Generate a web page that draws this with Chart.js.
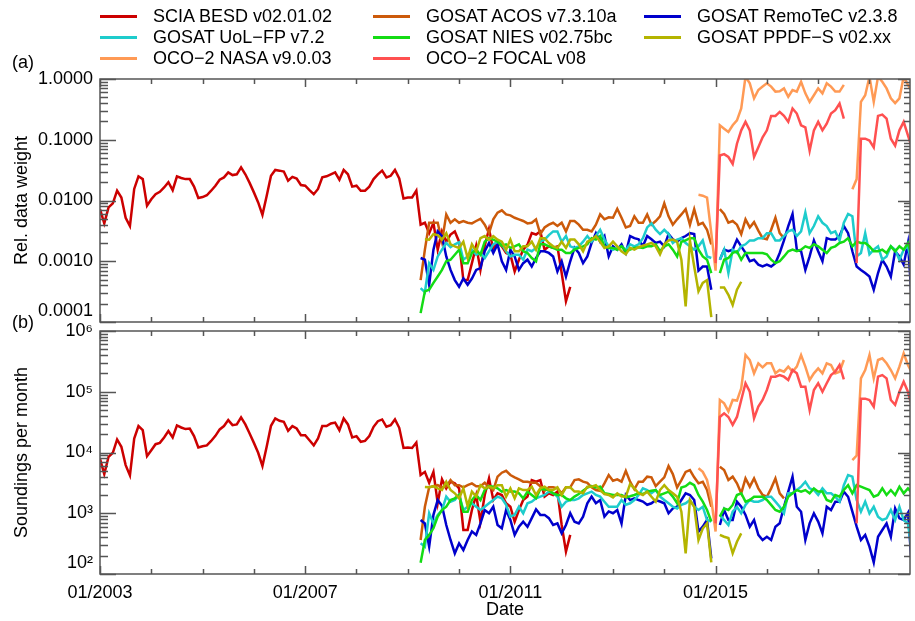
<!DOCTYPE html>
<html>
<head>
<meta charset="utf-8">
<script src="https://cdn.jsdelivr.net/npm/chart.js@4.4.1/dist/chart.umd.min.js"></script>
<style>
  html, body { margin: 0; padding: 0; background: #fff; }
  #wrap { position: relative; width: 915px; height: 621px; overflow: hidden;
          font-family: 'Liberation Sans', Arial, sans-serif; color: #000; }
  canvas { position: absolute; left: 0; top: 0; }
  .leg { position: absolute; font-size: 18px; line-height: 20px; white-space: nowrap; }
  .leg i { position: absolute; left: -53px; top: 9px; width: 37px; height: 0; border-top: 3px solid; }
  .panel { position: absolute; font-size: 18px; line-height: 20px; }
</style>
</head>
<body>
<div id="wrap">
  <canvas id="weightChart" width="915" height="621"></canvas>
  <canvas id="soundChart" width="915" height="621"></canvas>
  <div id="legend"></div>
  <div class="panel" style="left:12px;top:52px">(a)</div>
  <div class="panel" style="left:12px;top:312px">(b)</div>
</div>
<script>
// series, in drawing order; months are counted from 01/2003
const seriesNames = ['SCIA BESD v02.01.02', 'GOSAT ACOS v7.3.10a', 'GOSAT RemoTeC v2.3.8',
  'GOSAT UoL\u2212FP v7.2', 'GOSAT NIES v02.75bc', 'GOSAT PPDF\u2212S v02.xx',
  'OCO\u22122 NASA v9.0.03', 'OCO\u22122 FOCAL v08'];
const seriesColors = ['#cc0000', '#cc5a0a', '#0000cc', '#1ecccc', '#14dc14', '#b4b400', '#ff9a55', '#ff5050'];
const seriesStart = [0, 75, 75, 75, 75, 76, 140, 144];
const firstYear = 2003;
const lastYear = 2018.79;
const dateTicks = [2003, 2007, 2011, 2015];
const weightTicks = [0.0001, 0.001, 0.01, 0.1, 1];
const weightTickLabels = ['0.0001', '0.0010', '0.0100', '0.1000', '1.0000'];
const soundTicks = [1e2, 1e3, 1e4, 1e5, 1e6];
const soundTickLabels = ['10\u00b2', '10\u00b3', '10\u2074', '10\u2075', '10\u2076'];

// (a) relative data weight
const weightScia = [0.0072,0.0042,0.0077,0.0090,0.0145,0.0112,0.0052,0.0038,0.0155,0.025,
  0.0225,0.0082,0.0105,0.0127,0.0139,0.0164,0.0200,0.0148,0.025,0.0235,
  0.0225,0.0225,0.0169,0.011,0.0114,0.0122,0.0145,0.0175,0.022,0.024,
  0.029,0.0262,0.027,0.0352,0.027,0.0195,0.0136,0.0093,0.0058,0.012,
  0.0255,0.0318,0.031,0.030,0.0212,0.0245,0.023,0.018,0.0175,0.0148,
  0.0127,0.0155,0.024,0.025,0.027,0.029,0.022,0.0318,0.027,0.0169,
  0.0175,0.0145,0.0145,0.0169,0.0225,0.027,0.031,0.024,0.0255,0.0318,
  0.023,0.0108,0.0112,0.0112,0.0145,
  0.0040,0.0043,0.0029,0.0043,0.00155,0.0031,0.0021,0.00275,0.0031,0.0021,
  0.00049,0.00049,0.00093,0.0018,0.00072,0.0018,0.0034,0.00155,0.0021,0.00176,
  0.00137,0.00128,0.00068,0.00106,0.00155,0.00188,0.0029,0.00275,0.0031,0.00155,
  0.00176,0.00166,0.00176,0.00064,0.00022,0.00038];
const weightAcos = [0.00049,0.00155,0.0043,0.0043,0.0043,0.0021,0.0059,0.0043,0.0049,0.0043,
  0.0046,0.0043,0.0042,0.0046,0.005,0.0040,0.0029,0.0049,0.0063,0.0069,
  0.0059,0.0057,0.0052,0.0049,0.0046,0.0042,0.0043,0.0049,0.0028,0.0036,
  0.0040,0.0043,0.0038,0.0043,0.0031,0.0046,0.0046,0.0040,0.0033,0.0033,
  0.0031,0.0040,0.0059,0.0049,0.0053,0.0052,0.0073,0.0052,0.0036,0.0038,
  0.0055,0.0043,0.0043,0.0059,0.0040,0.0046,0.0055,0.009,0.0055,0.0040,
  0.0049,0.0059,0.0072,0.0040,0.0072,0.0040,0.0043,0.0033,0.0019,null,
  0.0072,0.006,0.0043,0.0046,0.004,0.0028,0.0049,0.0036,0.0044,0.0032,
  0.0024,0.0023,0.0033,0.0052,0.0029,0.0024];
const weightRemotec = [0.00113,0.00106,0.00041,0.00155,0.0031,0.0026,0.0012,0.00072,0.00049,0.00038,
  0.00052,0.00041,0.00052,0.00072,0.00077,0.00146,0.002,0.00137,0.0019,0.001,
  0.00072,0.00155,0.0012,0.00072,0.00093,0.00106,0.00082,0.00113,0.00146,0.00146,
  0.00137,0.0012,0.00068,0.001,0.00056,0.001,0.00166,0.00137,0.00093,0.0012,
  0.002,0.0029,0.0021,0.0026,0.0012,0.00176,0.00155,0.0019,0.00137,0.0026,
  0.0024,0.0023,0.00176,0.0026,0.0023,0.002,0.0021,0.00176,0.0028,0.0023,
  0.0021,0.0024,0.0026,0.0029,0.0028,0.0007,0.00082,0.00082,0.00034,null,
  0.00106,0.00155,0.00146,0.00155,0.00227,0.00176,0.00137,0.001,0.00106,0.00088,
  0.00082,0.00088,0.00082,0.00093,0.00137,0.0022,0.0038,0.006,0.00155,0.00146,
  0.00072,0.0012,0.0022,0.00146,0.001,0.0024,0.00227,0.00227,0.0026,0.0038,
  0.0029,0.00146,0.00082,0.00072,0.00064,0.00056,0.00034,0.00064,0.00106,0.00082,
  0.00056,0.00146,0.0012,0.00088,0.002,0.00018];
const weightUol = [0.00036,0.00031,0.00093,0.00072,0.0012,0.00155,0.002,0.0017,0.0019,0.00205,
  0.00106,0.0012,0.00155,0.00128,0.00137,0.00113,0.00146,0.0019,0.0021,0.0019,
  0.00146,0.0012,0.00128,0.00128,0.00106,0.00155,0.00146,0.00166,0.0021,0.00227,
  0.0027,0.0031,0.0031,0.0021,0.0026,0.00176,0.00166,0.00176,0.0021,0.0026,
  0.0021,0.0026,0.0033,0.00227,0.00176,0.00155,0.00166,0.00176,0.00155,0.0019,
  0.00176,0.0019,0.0024,0.0036,0.0042,0.0033,0.0028,0.0033,0.0028,0.002,
  0.00227,0.0024,0.002,0.00176,0.00155,0.00176,0.0022,0.0012,0.00113,null,
  0.00106,0.00155,0.00064,0.00155,0.00137,0.00176,0.0019,0.0022,0.0022,0.0024,
  0.0024,0.0029,0.0029,0.0022,0.0022,0.0026,0.0031,0.0033,0.0026,0.0031,
  0.0063,0.0029,0.0038,0.0055,0.0043,0.0038,0.0029,0.0031,0.0022,0.0043,
  0.006,0.0055,0.0012,0.00137,0.0029,0.0013,0.00155,0.00176,0.00106,0.0012,
  0.00176,0.00155,0.00106,0.00155,0.00176,0.00082];
const weightNies = [0.00014,0.00032,0.00034,0.00044,0.00056,0.00072,0.001,0.00106,0.00128,0.00155,
  0.00093,0.00093,0.00137,0.00155,0.00128,0.0021,0.0024,0.00227,0.0021,0.0018,
  0.0019,0.00166,0.00176,0.0019,0.00146,0.00137,0.00113,0.001,0.0019,0.0019,
  0.00176,0.00166,0.00155,0.00155,0.00137,0.00137,0.00155,0.00166,0.00176,0.0019,
  0.0024,0.00227,0.0026,0.00176,0.00166,0.00166,0.00155,0.00176,0.00146,0.00155,
  0.00166,0.0017,0.00166,0.00176,0.00176,0.0019,0.00146,0.00176,0.0019,0.00155,
  0.0012,0.0021,0.0022,0.0024,0.0024,0.00155,0.0012,0.00106,0.00064,null,
  0.00064,0.00106,0.00113,0.00137,0.00146,0.00106,0.00137,0.00137,0.00137,0.00137,
  0.00137,0.0013,0.00106,0.00093,0.001,0.0012,0.00146,0.00155,0.00146,0.00155,
  0.00176,0.00166,0.0019,0.00176,0.00155,0.00137,0.00166,0.00176,0.002,0.0021,
  0.0024,0.00176,0.0021,0.002,0.002,0.00176,0.00146,0.00146,0.00155,0.00137,
  0.00176,0.00146,0.00176,0.00155,0.002,0.00113];
const weightPpdf = [0.0023,0.00227,0.0028,0.0027,0.00227,0.0029,0.0019,0.00176,0.00166,0.0021,
  0.00113,0.0019,0.00146,0.0024,0.0026,0.00227,0.0026,0.00227,0.0021,0.00155,
  0.00227,0.00146,0.00146,0.00176,0.00176,0.0021,0.00155,0.0024,0.0024,0.002,
  0.00176,0.00166,0.0021,0.00166,0.00227,0.00227,0.0019,0.00146,0.0021,0.00227,
  0.0026,0.0021,0.00166,0.00176,0.0021,0.00176,0.00146,0.0013,0.00166,0.00155,
  0.0017,0.0018,0.0019,0.002,0.00176,0.0013,0.0019,0.0022,0.00227,0.0021,
  0.00106,0.00018,0.0022,0.00082,0.00032,0.00044,0.00049,0.00012,null,0.00037,
  0.00037,0.00028,0.00019,0.00034,0.00046];
const weightNasa = [0.0124,0.012,0.0112,0.0029,0.0007,
  0.173,0.152,0.134,0.173,0.209,0.327,1.09,0.85,0.48,0.66,
  0.75,0.85,0.75,0.62,0.63,0.70,0.51,0.66,0.62,0.90,
  0.58,0.42,0.54,0.70,0.58,0.85,0.75,0.62,0.62,0.80,
  null,0.0153,0.0225,0.42,0.54,1.09,0.42,1.09,0.90,0.70,
  0.48,0.40,0.48,1.09,0.80,0.62];
const weightFocal = [0.00093,
  0.055,0.058,0.052,0.040,0.086,0.143,0.197,0.143,0.052,0.075,
  0.11,0.143,0.247,0.247,0.287,0.247,0.197,0.327,0.27,0.173,
  0.16,0.066,0.143,0.197,0.143,0.184,0.27,0.306,0.395,0.223,
  null,null,0.00093,0.104,0.104,0.097,0.075,0.247,0.26,0.223,
  0.104,0.08,0.143,0.197,0.118,0.071];

// (b) soundings per month
const soundScia = [7900,4400,8500,9900,16400,12400,6200,4200,17000,27200,
  23300,8700,10900,13700,14400,17700,22500,17700,27900,25800,
  24300,24800,18600,12100,12700,13100,15500,18800,24000,27200,
  34100,28200,29000,37800,29000,20600,14400,9900,6000,12600,
  27500,36300,33200,32000,22700,27200,24800,19300,19300,15900,
  13100,17000,27200,27200,30000,31000,23300,36300,29000,17700,
  18600,15000,15500,18600,26500,32800,35000,26500,28200,35000,
  25500,11900,12100,11900,14600,
  4250,4800,3180,4800,1460,3610,2570,3310,3100,2570,
  530,530,1130,2000,725,2000,3760,1650,2130,2000,
  1460,1280,725,1130,1650,1880,3520,3310,3520,1880,
  2130,2000,2270,640,233,440];
const soundAcos = [363,1280,2670,2790,2900,2670,2740,3520,2900,2900,
  2670,2900,3100,2790,2790,3170,2670,2410,4000,4650,
  4990,4260,3900,3610,3310,3310,3170,3170,2790,2340,
  2670,2670,2570,2130,2670,2670,3520,3610,3310,3170,
  2670,2410,2340,3100,4260,3430,3610,3310,4990,3310,
  2480,3310,3310,4000,3900,2790,3310,3900,5990,4420,
  2670,3520,4800,5150,3900,3110,3300,2410,1280,null,
  5840,5150,3530,4000,3110,2130,3750,2740,3750,2570,
  2000,1870,2570,3750,2130,1760];
const soundRemotec = [775,680,282,940,1650,1330,640,363,219,320,
  248,363,500,440,680,1130,1000,1280,640,565,
  1130,775,440,600,725,600,830,1160,940,940,
  830,640,680,467,640,1000,725,680,880,1460,
  1880,1460,1650,880,1070,1000,1130,680,2000,1650,
  1760,1650,1560,1380,1460,1650,1560,1460,1000,1200,
  1280,1650,2130,2000,1650,500,601,774,180,null,
  640,1130,774,774,1550,1280,940,601,774,440,
  363,411,363,601,682,1280,2270,4000,1280,1060,
  363,682,996,730,467,1280,1130,1550,1550,2270,
  1870,1060,601,363,440,282,155,411,530,682,
  411,1200,826,774,1020,110];
const soundUol = [320,282,1000,680,940,1130,1880,1550,1650,2000,
  1130,1280,1460,1280,1130,1280,1460,1650,1880,1760,
  1380,880,940,1280,1000,1460,1550,1760,1880,2000,
  2270,2130,1880,1280,1550,1650,1650,1760,2000,2130,
  2270,2000,1880,1550,1280,1280,1280,1650,1380,1460,
  1650,2000,2570,2410,2130,2410,1880,1650,1460,1280,
  1200,1380,1460,1650,1280,1130,1280,774,730,null,
  940,774,640,1060,1280,996,1370,1650,1550,1550,
  1650,1870,1870,1550,1280,996,2130,2130,2410,2740,
  3300,2570,2410,2000,2570,2130,2130,1870,1550,2900,
  4250,4000,1650,1060,1550,996,1280,878,774,826,
  1130,774,1280,774,682,219];
const soundNies = [153,363,440,565,880,1130,1280,1650,1760,2000,
  1060,1060,1650,2000,1650,2410,2790,2740,2570,2270,
  2410,2270,2270,2130,1760,2270,2000,1760,2480,2480,
  2410,2130,2000,2000,1760,1650,1880,2070,2340,2650,
  2790,2650,2740,2130,2070,2000,2000,2000,1820,1900,
  2000,2130,2070,2270,2340,2410,2000,2130,2270,1880,
  1460,2650,2790,3170,2900,2000,1550,1130,730,null,
  878,1200,1130,1370,2000,2130,1550,1650,1870,1870,
  1870,1650,1370,1130,1060,1280,1870,2130,2410,2270,
  2410,2130,2570,2270,2270,1650,1550,2000,1870,2410,
  2900,2130,2900,2740,2570,2410,1870,2000,2570,2000,
  2410,2000,2740,2130,2570,2130];
const soundPpdf = [2700,2670,2790,2570,2410,3310,2410,2130,1760,2570,
  1310,2270,1880,2900,2570,2740,2570,2900,2900,1880,
  2570,1760,2570,2410,2410,2740,2000,2570,2740,2410,
  2410,2670,2000,2670,2670,2270,2270,2130,2740,2740,
  2900,2410,2070,2000,1820,2130,1880,1880,3030,2570,
  2130,2000,2270,1870,1550,2410,2900,2410,2130,1870,
  1060,219,1650,1280,363,560,682,155,null,440,
  411,390,219,340,467];
const soundNasa = [5500,4800,3530,1650,500,
  73200,64500,47500,73200,71500,114000,402000,333000,201000,294000,
  252000,294000,294000,201000,228000,214000,259000,214000,259000,402000,
  259000,156000,201000,243000,201000,294000,276000,201000,214000,333000,
  null,7500,8900,166000,228000,402000,166000,333000,355000,294000,
  228000,166000,259000,429000,276000,201000];
const soundFocal = [682,
  38500,44100,38500,28600,38500,73200,138000,100000,36600,56800,
  73200,107000,177000,177000,188000,177000,156000,228000,201000,121000,
  121000,50000,107000,138000,100000,138000,188000,214000,276000,160000,
  null,null,682,77000,77000,73200,56800,177000,188000,166000,
  73200,61000,100000,146000,100000,53000];

const weightSeries = [weightScia, weightAcos, weightRemotec, weightUol, weightNies, weightPpdf, weightNasa, weightFocal];
const soundSeries = [soundScia, soundAcos, soundRemotec, soundUol, soundNies, soundPpdf, soundNasa, soundFocal];

const FONT = { family: "'Liberation Sans', Arial, sans-serif", size: 18 };

// legend, three columns like the original
const legendSpots = [[153, 6], [426, 6], [697, 6], [153, 27], [426, 27], [697, 27], [153, 48], [426, 48]];
const legendOrder = [0, 1, 2, 3, 4, 5, 6, 7];
const legendBox = document.getElementById('legend');
legendOrder.forEach((k, n) => {
  const d = document.createElement('div');
  d.className = 'leg';
  d.style.left = legendSpots[n][0] + 'px';
  d.style.top = legendSpots[n][1] + 'px';
  d.innerHTML = '<i style="border-color:' + seriesColors[k] + '"></i>' + seriesNames[k];
  legendBox.appendChild(d);
});

// frame and inward tick marks on all four sides
const frameTicks = {
  id: 'frameTicks',
  afterDatasetsDraw(chart) {
    const { ctx, chartArea: a, scales: { x, y } } = chart;
    ctx.save();
    ctx.strokeStyle = '#555';
    ctx.lineWidth = 1.5;
    ctx.beginPath();
    const e0 = Math.round(Math.log10(y.min)), e1 = Math.round(Math.log10(y.max));
    for (let e = e0; e <= e1; e++) {
      for (let m = 1; m <= 9; m++) {
        const v = m * Math.pow(10, e);
        if (v > y.max * 1.001) break;
        const py = Math.round(y.getPixelForValue(v)) + 0.5;
        const major = m === 1;
        ctx.moveTo(a.left, py); ctx.lineTo(a.left + (major ? 16 : 8), py);
        ctx.moveTo(a.right, py); ctx.lineTo(a.right - (major ? 12 : 6), py);
      }
    }
    for (let yr = Math.ceil(x.min); yr <= x.max; yr++) {
      const px = Math.round(x.getPixelForValue(yr)) + 0.5;
      const len = (yr - firstYear) % 4 === 0 ? 8 : 5;
      ctx.moveTo(px, a.bottom); ctx.lineTo(px, a.bottom - len);
      ctx.moveTo(px, a.top); ctx.lineTo(px, a.top + len);
    }
    ctx.stroke();
    ctx.strokeRect(a.left, a.top, a.right - a.left, a.bottom - a.top);
    ctx.restore();
  }
};

function buildDatasets(series) {
  return series.map((vals, k) => ({
    label: seriesNames[k],
    data: vals.map((v, j) => ({ x: firstYear + (seriesStart[k] + j) / 12, y: v })),
    borderColor: seriesColors[k],
    backgroundColor: seriesColors[k],
    borderWidth: 2.5,
    pointRadius: 0,
    tension: 0,
    spanGaps: false,
    order: series.length - k
  }));
}

function makePanel(id, series, ticks, tickLabels, title, padding, showDates) {
  return new Chart(document.getElementById(id), {
    type: 'line',
    data: { datasets: buildDatasets(series) },
    options: {
      responsive: false,
      animation: false,
      layout: { padding },
      plugins: { legend: { display: false }, tooltip: { enabled: false } },
      scales: {
        x: {
          type: 'linear', min: firstYear, max: lastYear,
          display: showDates,
          grid: { display: false, drawTicks: false },
          border: { display: false },
          afterBuildTicks: s => { s.ticks = dateTicks.map(v => ({ value: v })); },
          ticks: { autoSkip: false, maxRotation: 0, padding: 8, color: '#000', font: FONT,
                   callback: v => '01/' + v },
          title: { display: true, text: 'Date', color: '#000', font: FONT, padding: { top: 1, bottom: 0 } },
          afterFit: s => { s.height = showDates ? 47 : 0; }
        },
        y: {
          type: 'logarithmic', min: ticks[0], max: ticks[ticks.length - 1],
          grid: { display: false, drawTicks: false },
          border: { display: false },
          afterBuildTicks: s => { s.ticks = ticks.map(v => ({ value: v })); },
          ticks: { autoSkip: false, padding: 7, color: '#000', font: FONT,
                   // the lowest label sits a little above its tick, as in the original
                   callback: (v, i) => i === 0 ? [tickLabels[i], ''] : tickLabels[i] },
          title: { display: true, text: title, color: '#000', font: FONT, padding: { top: 11, bottom: 0 } },
          afterFit: s => { s.width = 100; }
        }
      }
    },
    plugins: [frameTicks]
  });
}

makePanel('weightChart', weightSeries, weightTicks, weightTickLabels, 'Rel. data weight',
  { top: 79, bottom: 299, left: 0, right: 5 }, false);
makePanel('soundChart', soundSeries, soundTicks, soundTickLabels, 'Soundings per month',
  { top: 331, bottom: 0, left: 0, right: 5 }, true);
</script>
</body>
</html>
